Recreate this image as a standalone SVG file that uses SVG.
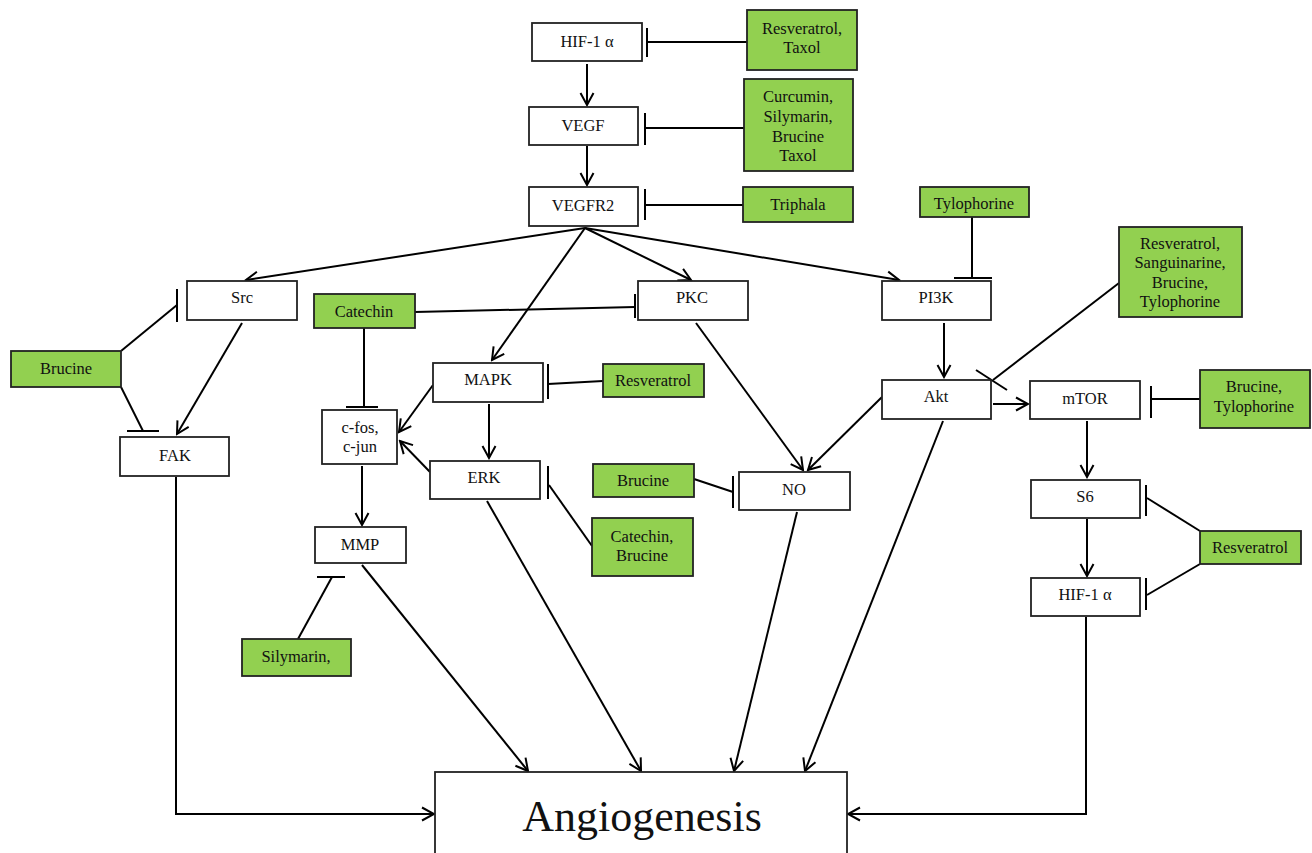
<svg xmlns="http://www.w3.org/2000/svg" width="1312" height="853" viewBox="0 0 1312 853" font-family="'Liberation Serif','Times New Roman',serif">
<style>
.n rect{fill:#fff;stroke:#222;stroke-width:1.8}
.g rect{fill:#92D050;stroke:#222;stroke-width:1.8}
text{font-family:"Liberation Serif","Times New Roman",serif;font-size:16.5px;fill:#111;text-anchor:middle}
.c line,.c path{stroke:#000;stroke-width:2;fill:none}
text.big{font-size:44px}
</style>
<defs>
<marker id="a" markerUnits="userSpaceOnUse" markerWidth="16" markerHeight="16" refX="14" refY="8" orient="auto">
<path d="M2,1.5 L14,8 L2,14.5" fill="none" stroke="#000" stroke-width="2"/>
</marker>
</defs>
<rect width="1312" height="853" fill="#fff"/>

<g class="c" id="connectors">
<line x1="587" y1="64" x2="587" y2="105" marker-end="url(#a)"/>
<line x1="587" y1="146" x2="587" y2="185" marker-end="url(#a)"/>
<line x1="585" y1="228" x2="246" y2="280" marker-end="url(#a)"/>
<line x1="585" y1="228" x2="492" y2="360" marker-end="url(#a)"/>
<line x1="585" y1="228" x2="691" y2="280" marker-end="url(#a)"/>
<line x1="585" y1="228" x2="899" y2="280" marker-end="url(#a)"/>
<line x1="242" y1="323" x2="177" y2="434" marker-end="url(#a)"/>
<line x1="489" y1="404" x2="489" y2="458" marker-end="url(#a)"/>
<line x1="433" y1="385" x2="399" y2="432" marker-end="url(#a)"/>
<line x1="430" y1="472" x2="400" y2="441" marker-end="url(#a)"/>
<line x1="362" y1="466" x2="362" y2="525" marker-end="url(#a)"/>
<line x1="696" y1="323" x2="803" y2="470" marker-end="url(#a)"/>
<line x1="882" y1="397" x2="808" y2="470" marker-end="url(#a)"/>
<line x1="944" y1="323" x2="944" y2="377" marker-end="url(#a)"/>
<line x1="993" y1="404" x2="1028" y2="404" marker-end="url(#a)"/>
<line x1="1087" y1="421" x2="1087" y2="477" marker-end="url(#a)"/>
<line x1="1087" y1="519" x2="1087" y2="576" marker-end="url(#a)"/>
<line x1="362" y1="565" x2="528" y2="771" marker-end="url(#a)"/>
<line x1="487" y1="501" x2="641" y2="771" marker-end="url(#a)"/>
<line x1="797" y1="512" x2="734" y2="771" marker-end="url(#a)"/>
<line x1="943" y1="421" x2="805" y2="771" marker-end="url(#a)"/>
<path d="M176,477 V814 H434" marker-end="url(#a)"/>
<path d="M1086,617 V814 H848" marker-end="url(#a)"/>

<line x1="747" y1="42" x2="647" y2="42"/>
<line x1="647" y1="28" x2="647" y2="57"/>
<line x1="744" y1="128" x2="645" y2="128"/>
<line x1="645" y1="113" x2="645" y2="145"/>
<line x1="743" y1="205" x2="645" y2="205"/>
<line x1="645" y1="189" x2="645" y2="220"/>
<line x1="121" y1="351" x2="177" y2="305"/>
<line x1="177" y1="289" x2="177" y2="322"/>
<line x1="121" y1="387" x2="143" y2="431"/>
<line x1="127" y1="431" x2="159" y2="431"/>
<line x1="364" y1="328" x2="364" y2="407"/>
<line x1="346" y1="407" x2="378" y2="407"/>
<line x1="415" y1="312" x2="635" y2="307"/>
<line x1="635" y1="294" x2="635" y2="318"/>
<line x1="603" y1="381" x2="548" y2="384"/>
<line x1="548" y1="364" x2="548" y2="399"/>
<line x1="592" y1="546" x2="549" y2="485"/>
<line x1="548" y1="466" x2="548" y2="499"/>
<line x1="694" y1="479" x2="733" y2="492"/>
<line x1="733" y1="476" x2="733" y2="508"/>
<line x1="298" y1="639" x2="332" y2="577"/>
<line x1="317" y1="577" x2="345" y2="577"/>
<line x1="972" y1="217" x2="972" y2="278"/>
<line x1="954" y1="278" x2="992" y2="278"/>
<line x1="1119" y1="283" x2="993" y2="380"/>
<line x1="976" y1="370" x2="1007" y2="390"/>
<line x1="1200" y1="399" x2="1151" y2="399"/>
<line x1="1151" y1="386" x2="1151" y2="418"/>
<line x1="1200" y1="531" x2="1147" y2="498"/>
<line x1="1146" y1="485" x2="1146" y2="516"/>
<line x1="1200" y1="564" x2="1147" y2="595"/>
<line x1="1146" y1="578" x2="1146" y2="610"/>
</g>

<g class="n" id="hif1a_top"><rect x="532" y="23" width="110" height="38"/><text x="587" y="47">HIF-1 α</text></g>
<g class="n" id="vegf"><rect x="529" y="107" width="109" height="38"/><text x="583" y="131">VEGF</text></g>
<g class="n" id="vegfr2"><rect x="529" y="187" width="109" height="39"/><text x="583" y="211">VEGFR2</text></g>
<g class="n" id="src"><rect x="187" y="281" width="110" height="39"/><text x="242" y="303">Src</text></g>
<g class="n" id="fak"><rect x="120" y="437" width="109" height="39"/><text x="175" y="461">FAK</text></g>
<g class="n" id="cfos"><rect x="322" y="410" width="75" height="54"/><text x="360" y="433">c-fos,</text><text x="360" y="452">c-jun</text></g>
<g class="n" id="mmp"><rect x="315" y="527" width="91" height="36"/><text x="360" y="550">MMP</text></g>
<g class="n" id="pkc"><rect x="638" y="281" width="110" height="39"/><text x="692" y="303">PKC</text></g>
<g class="n" id="mapk"><rect x="433" y="363" width="110" height="39"/><text x="488" y="385">MAPK</text></g>
<g class="n" id="erk"><rect x="430" y="461" width="110" height="38"/><text x="484" y="483">ERK</text></g>
<g class="n" id="no"><rect x="739" y="472" width="111" height="38"/><text x="794" y="495">NO</text></g>
<g class="n" id="pi3k"><rect x="882" y="281" width="109" height="39"/><text x="936" y="303">PI3K</text></g>
<g class="n" id="akt"><rect x="882" y="380" width="109" height="39"/><text x="936" y="402">Akt</text></g>
<g class="n" id="mtor"><rect x="1030" y="381" width="110" height="38"/><text x="1085" y="404">mTOR</text></g>
<g class="n" id="s6"><rect x="1031" y="480" width="109" height="38"/><text x="1085" y="502">S6</text></g>
<g class="n" id="hif1a_bottom"><rect x="1031" y="578" width="109" height="38"/><text x="1085" y="600">HIF-1 α</text></g>
<g class="n" id="angiogenesis"><rect x="435" y="772" width="412" height="90"/><text class="big" x="642" y="831">Angiogenesis</text></g>

<g class="g" id="g_resv_taxol"><rect x="747" y="10" width="110" height="60"/><text x="802" y="34">Resveratrol,</text><text x="802" y="53">Taxol</text></g>
<g class="g" id="g_curcumin"><rect x="744" y="79" width="109" height="92"/><text x="798" y="102">Curcumin,</text><text x="798" y="122">Silymarin,</text><text x="798" y="142">Brucine</text><text x="798" y="161">Taxol</text></g>
<g class="g" id="g_triphala"><rect x="743" y="187" width="110" height="35"/><text x="798" y="210">Triphala</text></g>
<g class="g" id="g_brucine_left"><rect x="11" y="351" width="110" height="36"/><text x="66" y="374">Brucine</text></g>
<g class="g" id="g_catechin"><rect x="314" y="294" width="101" height="34"/><text x="364" y="317">Catechin</text></g>
<g class="g" id="g_resv_mapk"><rect x="603" y="364" width="101" height="33"/><text x="653" y="386">Resveratrol</text></g>
<g class="g" id="g_brucine_no"><rect x="593" y="464" width="101" height="33"/><text x="643" y="486">Brucine</text></g>
<g class="g" id="g_catechin_brucine"><rect x="592" y="518" width="101" height="58"/><text x="642" y="542">Catechin,</text><text x="642" y="561">Brucine</text></g>
<g class="g" id="g_silymarin"><rect x="242" y="639" width="109" height="37"/><text x="296" y="662">Silymarin,</text></g>
<g class="g" id="g_tylophorine"><rect x="920" y="187" width="109" height="30"/><text x="974" y="209">Tylophorine</text></g>
<g class="g" id="g_resv_sang"><rect x="1119" y="227" width="123" height="90"/><text x="1180" y="249">Resveratrol,</text><text x="1180" y="268">Sanguinarine,</text><text x="1180" y="288">Brucine,</text><text x="1180" y="307">Tylophorine</text></g>
<g class="g" id="g_brucine_tylo"><rect x="1200" y="370" width="110" height="58"/><text x="1254" y="392">Brucine,</text><text x="1254" y="412">Tylophorine</text></g>
<g class="g" id="g_resv_right"><rect x="1200" y="531" width="101" height="33"/><text x="1250" y="553">Resveratrol</text></g>
</svg>
